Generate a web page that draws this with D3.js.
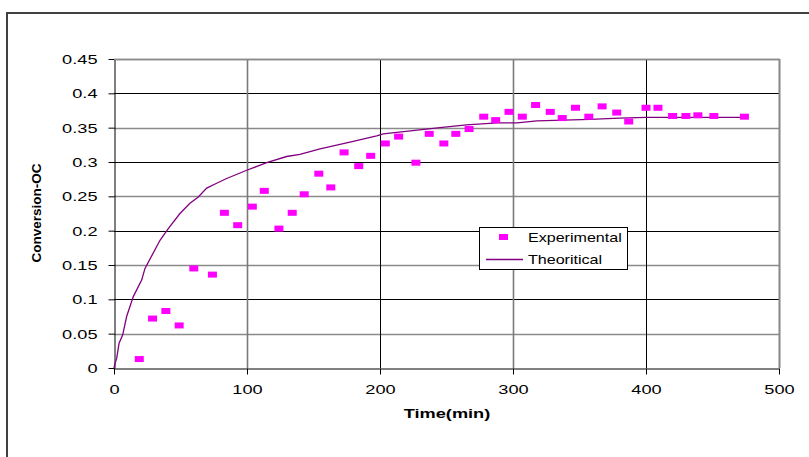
<!DOCTYPE html>
<html>
<head>
<meta charset="utf-8">
<script src="https://cdn.jsdelivr.net/npm/d3@7"></script>
<style>
	body { margin: 0; background: #fff; }
	svg { display: block; font-family: "Liberation Sans", Arial, sans-serif; }
</style>
</head>
<body>
<svg id="chart" width="809" height="457"></svg>
<script>
// experimental points
var expTime = [19, 29, 39, 49, 60, 74, 83, 93, 104, 113, 124, 134, 143, 154, 163, 173, 184, 193, 204, 214,
	227, 237, 248, 257, 267, 278, 287, 297, 307, 317, 328, 337, 347, 357, 367, 378, 387, 400, 409, 420,
	430, 439, 451, 474];
var expConv = [0.013, 0.072, 0.083, 0.062, 0.145, 0.136, 0.226, 0.208, 0.235, 0.258, 0.203, 0.226, 0.253, 0.283, 0.263,
	0.314, 0.294, 0.309, 0.327, 0.337, 0.299, 0.341, 0.327, 0.341, 0.348, 0.366, 0.361, 0.373, 0.366, 0.383,
	0.373, 0.364, 0.379, 0.366, 0.381, 0.372, 0.359, 0.379, 0.379, 0.367, 0.367, 0.368, 0.367, 0.366];

// theoretical curve
var thTime = [0, 0.8, 2, 3.8, 6.5, 9.5, 14.5, 20.8, 23.3, 34.6, 40.8, 49.6, 57.1, 63.4, 69.7, 77.2, 84.7, 99.8,
	114.8, 129.8, 139.8, 154.9, 177.4, 197.5, 202.5, 245, 265, 288, 303, 318, 358, 380, 400, 474];
var thConv = [0, 0.007, 0.014, 0.036, 0.048, 0.075, 0.104, 0.128, 0.145, 0.186, 0.203, 0.225, 0.240, 0.249, 0.262,
	0.269, 0.276, 0.288, 0.299, 0.308, 0.311, 0.319, 0.329, 0.338, 0.341, 0.350, 0.354, 0.357, 0.357, 0.360,
	0.362, 0.364, 0.365, 0.365];

var xTicks = [0, 100, 200, 300, 400, 500];
var yTicks = [0, 0.05, 0.1, 0.15, 0.2, 0.25, 0.3, 0.35, 0.4, 0.45];
var yLabels = ["0", "0.05", "0.1", "0.15", "0.2", "0.25", "0.3", "0.35", "0.4", "0.45"];
var seriesNames = ["Experimental", "Theoritical"];

var svg = d3.select("#chart");
var plotLeft = 114, plotRight = 779, plotTop = 59, plotBottom = 368;
var stretch = 1.4; // text in the picture is wider than normal

var x = d3.scaleLinear().domain([0, 500]).range([plotLeft, plotRight]);
var y = d3.scaleLinear().domain([0, 0.45]).range([plotBottom, plotTop]);

// outer frame
svg.append("rect")
	.attr("x", 7).attr("y", 13)
	.attr("width", 900).attr("height", 600)
	.attr("fill", "none").attr("stroke", "#404040").attr("stroke-width", 2);

// gridlines (alternate dark / grey like the source)
svg.append("g").selectAll("line")
	.data(yTicks.slice(1))
	.enter().append("line")
	.attr("x1", plotLeft).attr("x2", plotRight)
	.attr("y1", function(d) { return Math.round(y(d)) + 0.5; })
	.attr("y2", function(d) { return Math.round(y(d)) + 0.5; })
	.attr("stroke", function(d, i) { return i % 2 == 0 ? "#8a8a8a" : "#000"; })
	.attr("stroke-width", function(d, i) { return i % 2 == 0 ? 1.6 : 1; });

svg.append("g").selectAll("line")
	.data(xTicks.slice(1))
	.enter().append("line")
	.attr("y1", plotTop).attr("y2", plotBottom)
	.attr("x1", function(d) { return Math.round(x(d)) + 0.5; })
	.attr("x2", function(d) { return Math.round(x(d)) + 0.5; })
	.attr("stroke", function(d, i) { return i % 2 == 0 ? "#7a7a7a" : "#000"; })
	.attr("stroke-width", function(d, i) { return i % 2 == 0 ? 1.6 : 1; });

// axes
var yAxis = svg.append("g")
	.attr("transform", "translate(" + (plotLeft + 0.5) + ",0)")
	.call(d3.axisLeft(y).tickValues(yTicks).tickSize(6).tickSizeOuter(0)
		.tickFormat(function(d, i) { return yLabels[i]; }));
yAxis.selectAll("text")
	.attr("x", null).attr("dy", null)
	.attr("transform", "translate(-17,4.5) scale(" + stretch + ",1)")
	.attr("font-size", 13).attr("fill", "#000")
	.attr("font-family", "Liberation Sans, Arial, sans-serif");

var xAxis = svg.append("g")
	.attr("transform", "translate(0," + (plotBottom + 0.5) + ")")
	.call(d3.axisBottom(x).tickValues(xTicks).tickSize(6).tickSizeOuter(0));
xAxis.selectAll("text")
	.attr("y", null).attr("dy", null)
	.attr("transform", "translate(0,25) scale(" + stretch + ",1)")
	.attr("font-size", 13).attr("fill", "#000")
	.attr("font-family", "Liberation Sans, Arial, sans-serif");
svg.selectAll(".domain, .tick line").attr("stroke", "#000");

// plot border top / right
svg.append("path")
	.attr("d", "M" + plotLeft + "," + (plotTop + 0.5) + "H" + (plotRight + 0.5) + "V" + plotBottom)
	.attr("fill", "none").attr("stroke", "#8a8a8a").attr("stroke-width", 1.6);

// theoretical line
var line = d3.line()
	.x(function(d, i) { return x(thTime[i]); })
	.y(function(d) { return y(d); });
svg.append("path")
	.datum(thConv)
	.attr("d", line)
	.attr("fill", "none").attr("stroke", "#800080").attr("stroke-width", 1.3);

// experimental markers
svg.append("g").selectAll("rect")
	.data(expConv)
	.enter().append("rect")
	.attr("x", function(d, i) { return x(expTime[i]) - 4.5; })
	.attr("y", function(d) { return y(d) - 3; })
	.attr("width", 9).attr("height", 6)
	.attr("fill", "#ff00ff");

// axis titles
svg.append("text")
	.attr("transform", "translate(447,418) scale(" + stretch + ",1)")
	.attr("text-anchor", "middle")
	.attr("font-size", 13).attr("font-weight", "bold")
	.text("Time(min)");

svg.append("text")
	.attr("transform", "translate(41,213) rotate(-90)")
	.attr("text-anchor", "middle")
	.attr("font-size", 13).attr("font-weight", "bold")
	.attr("textLength", 99).attr("lengthAdjust", "spacingAndGlyphs")
	.text("Conversion-OC");

// legend
var legend = svg.append("g").attr("transform", "translate(479,227)");
legend.append("rect")
	.attr("x", 0.5).attr("y", 0.5).attr("width", 148).attr("height", 42)
	.attr("fill", "#fff").attr("stroke", "#000");
legend.append("rect")
	.attr("x", 20).attr("y", 7).attr("width", 9).attr("height", 6)
	.attr("fill", "#ff00ff");
legend.append("line")
	.attr("x1", 7).attr("x2", 44).attr("y1", 32.5).attr("y2", 32.5)
	.attr("stroke", "#800080").attr("stroke-width", 1.3);
legend.selectAll("text.lab")
	.data(seriesNames)
	.enter().append("text")
	.attr("class", "lab")
	.attr("transform", function(d, i) { return "translate(49," + (14.5 + i * 22) + ") scale(1.34,1)"; })
	.attr("font-size", 12)
	.text(function(d) { return d; });
</script>
</body>
</html>
